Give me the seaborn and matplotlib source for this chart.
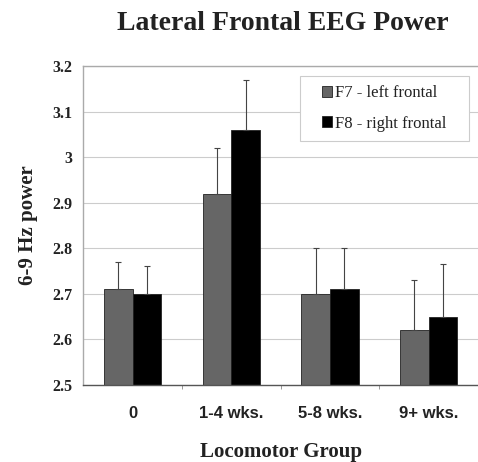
import numpy as np
import pandas as pd
import matplotlib
matplotlib.use('Agg')
import matplotlib.pyplot as plt
from matplotlib.patches import Rectangle
import seaborn as sns

# data
groups = ['0', '1-4 wks.', '5-8 wks.', '9+ wks.']
series = ['F7 - left frontal', 'F8 - right frontal']
f7_power = [2.71, 2.92, 2.70, 2.62]
f8_power = [2.70, 3.06, 2.71, 2.65]
f7_err = [0.06, 0.10, 0.10, 0.11]
f8_err = [0.06, 0.11, 0.09, 0.115]

df = pd.DataFrame({
    'group': groups * 2,
    'electrode': [series[0]] * 4 + [series[1]] * 4,
    'power': f7_power + f8_power,
})

sns.set_style('white')
serif = ['Liberation Serif', 'DejaVu Serif']
sans = ['Liberation Sans', 'DejaVu Sans']

fig = plt.figure(figsize=(4.78, 4.62), dpi=100)
ax = fig.add_axes([0.174, 0.167, 0.826, 0.690])

palette = {series[0]: '#666666', series[1]: '#000000'}
sns.barplot(data=df, x='group', y='power', hue='electrode', order=groups,
            hue_order=series, palette=palette, width=0.58, errorbar=None,
            edgecolor='#222222', linewidth=0.6, saturation=1, ax=ax, zorder=2)

# one-sided error bars at the bar centres
errs = f7_err + f8_err
vals = f7_power + f8_power
bars = [p for p in ax.patches if p.get_height() > 0][:8]
for bar, v, e in zip(bars, vals, errs):
    xc = bar.get_x() + bar.get_width() / 2
    ax.errorbar(xc, v, yerr=[[0], [e]], fmt='none', ecolor='#444444',
                elinewidth=0.8, capsize=2.5, capthick=0.8, zorder=3)

ax.set_ylim(2.5, 3.2)
ax.set_xlim(-0.5, 3.5)
yticks = [2.5, 2.6, 2.7, 2.8, 2.9, 3.0, 3.1, 3.2]
ax.set_yticks(yticks)
ax.set_yticklabels([f'{t:g}' for t in yticks], family=serif,
                   fontweight='bold', fontsize=11.5, color='#222222')
ax.set_xticks(range(len(groups)))
ax.set_xticklabels(groups, family=sans, fontweight='bold', fontsize=12,
                   color='#222222')
ax.set_xticks([0.5, 1.5, 2.5], minor=True)
ax.tick_params(axis='x', which='major', length=0, pad=15)
ax.tick_params(axis='y', which='major', length=0, pad=8)
ax.tick_params(axis='x', which='minor', length=3, color='#888888',
               direction='out', bottom=True)

ax.yaxis.grid(True, color='#cccccc', linewidth=0.8, zorder=0)
ax.set_axisbelow(True)
for side in ['left', 'top']:
    ax.spines[side].set_color('#aaaaaa')
    ax.spines[side].set_linewidth(1.0)
ax.spines['bottom'].set_color('#555555')
ax.spines['bottom'].set_linewidth(1.0)
ax.spines['right'].set_visible(False)

ax.set_xlabel('Locomotor Group', family=serif, fontweight='bold',
              fontsize=15, color='#222222', labelpad=15)
ax.set_ylabel('6-9 Hz power', family=serif, fontweight='bold',
              fontsize=15, color='#222222', labelpad=10)
fig.text(0.592, 0.950, 'Lateral Frontal EEG Power', family=serif,
         fontweight='bold', fontsize=20, color='#222222',
         ha='center', va='center')

# legend entries centred inside a wider box, as in the reference
leg = ax.legend(loc='center', bbox_to_anchor=(0.763, 0.867),
                prop={'family': serif, 'size': 12}, frameon=False,
                handlelength=0.6, handleheight=0.6, handletextpad=0.2,
                labelspacing=0.85, borderpad=0)
for t in leg.get_texts():
    t.set_color('#222222')
ax.add_patch(Rectangle((0.549, 0.765), 0.428, 0.204, transform=ax.transAxes,
                       facecolor='white', edgecolor='#cccccc', linewidth=0.8,
                       zorder=4))
leg.set_zorder(5)

fig.savefig('out.png', dpi=100)
